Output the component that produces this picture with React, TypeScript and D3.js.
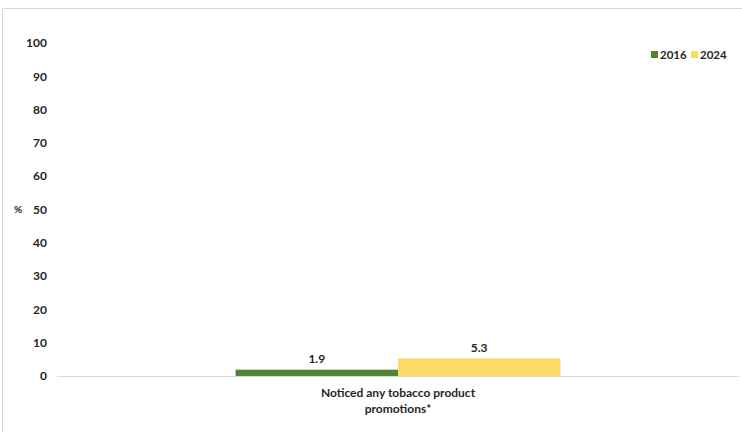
import React from "react";
import * as d3 from "d3";

const categories = ["Noticed any tobacco product promotions*"];
const categoryLines = [["Noticed any tobacco product", "promotions*"]];
const seriesNames = ["2016", "2024"];
const values2016 = [1.9];
const values2024 = [5.3];
const yTicks = [0, 10, 20, 30, 40, 50, 60, 70, 80, 90, 100];
const colors = ["#548235", "#FFD966"];

const W = 742;
const H = 432;
const FONT = "Lato, 'Open Sans', sans-serif";

export default function App() {
  const x0 = d3.scaleBand<string>().domain(categories).range([57, 739]).paddingInner(0).paddingOuter(0.55);
  const x1 = d3.scaleBand<string>().domain(seriesNames).range([0, x0.bandwidth()]).padding(0);
  const y = d3.scaleLinear().domain([0, 100]).range([376, 43]);
  const series = [values2016, values2024];

  return (
    <svg width={W} height={H} style={{ position: "absolute", left: 0, top: 0 }} fontFamily={FONT}>
      <rect x={0} y={0} width={W} height={H} fill="#fff" />
      <path d="M2.5,440 V8.5 H750" fill="none" stroke="#d9d9d9" strokeWidth={1} />
      {yTicks.map((t) => (
        <text key={t} x={47} y={y(t)} dy="0.35em" textAnchor="end" fontSize={12} fontWeight="bold" fill="#262626">
          {t}
        </text>
      ))}
      <text x={18} y={y(50)} dy="0.35em" textAnchor="middle" fontSize={10} fontWeight="bold" fill="#262626">%</text>
      <line x1={57} x2={739} y1={y(0) + 0.5} y2={y(0) + 0.5} stroke="#d9d9d9" strokeWidth={1} />
      {categories.map((c, ci) => (
        <g key={c}>
          {series.map((vals, si) => {
            const bx = (x0(c) ?? 0) + (x1(seriesNames[si]) ?? 0);
            const bw = x1.bandwidth();
            return (
              <g key={si}>
                <rect x={bx} y={y(vals[ci])} width={bw} height={y(0) - y(vals[ci])} fill={colors[si]} />
                <text x={bx + bw / 2} y={y(vals[ci]) - 11} dy="0.35em" textAnchor="middle" fontSize={12} fontWeight="bold" fill="#262626">
                  {vals[ci].toFixed(1)}
                </text>
              </g>
            );
          })}
          {categoryLines[ci].map((ln, li) => (
            <text key={li} x={(x0(c) ?? 0) + x0.bandwidth() / 2} y={393 + li * 16} dy="0.35em" textAnchor="middle" fontSize={12} fontWeight="bold" fill="#262626">
              {ln}
            </text>
          ))}
        </g>
      ))}
      <g>
        <rect x={651} y={51} width={7} height={7} fill={colors[0]} />
        <text x={660} y={55} dy="0.35em" fontSize={11.5} fontWeight="bold" fill="#262626">{seriesNames[0]}</text>
        <rect x={691} y={51} width={7} height={7} fill={colors[1]} />
        <text x={700} y={55} dy="0.35em" fontSize={11.5} fontWeight="bold" fill="#262626">{seriesNames[1]}</text>
      </g>
    </svg>
  );
}
